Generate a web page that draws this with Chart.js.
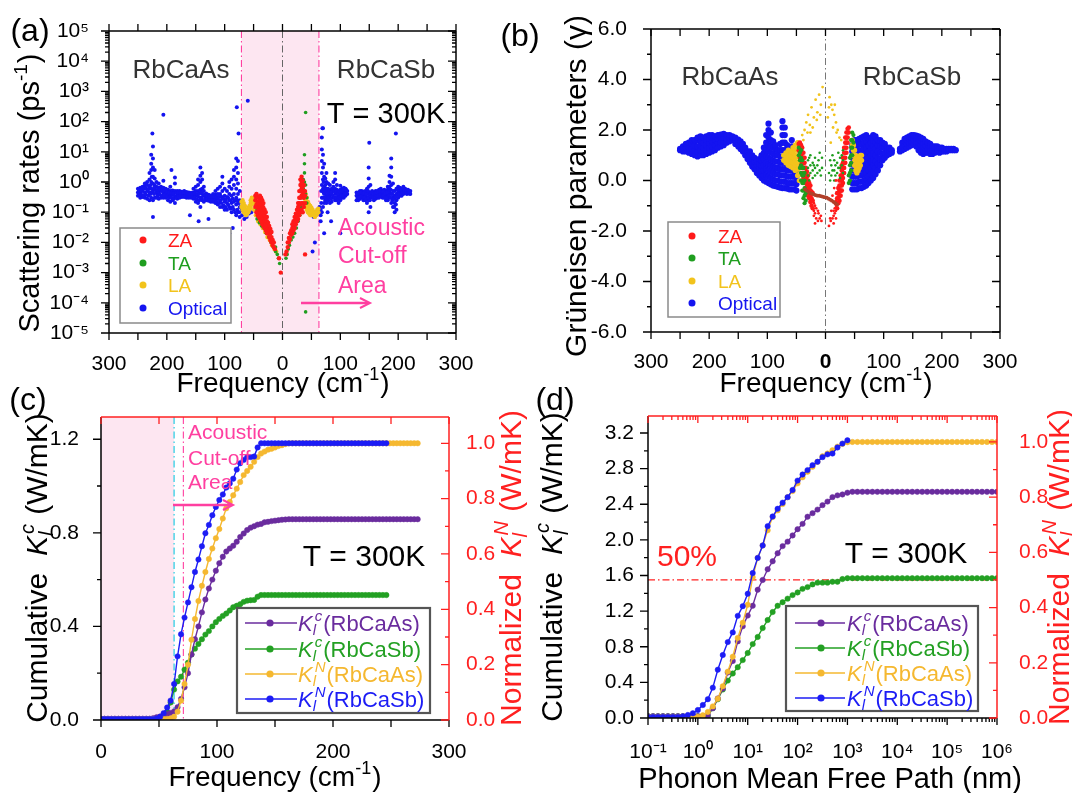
<!DOCTYPE html>
<html><head><meta charset="utf-8">
<script src="https://cdn.jsdelivr.net/npm/chart.js@4.4.1/dist/chart.umd.min.js"></script>
<style>
html,body{margin:0;padding:0;background:#fff;}
#wrap{position:relative;width:1072px;height:793px;overflow:hidden;background:#fff;}
canvas{position:absolute;}
</style></head><body><div id="wrap">
<canvas id="cc" width="527" height="408" style="left:0;top:385px"></canvas>
<canvas id="cd" width="545" height="408" style="left:527px;top:385px"></canvas>
<canvas id="ca" width="490" height="405" style="left:0;top:0"></canvas>
<canvas id="cb" width="582" height="405" style="left:490px;top:0"></canvas>
</div>
<script>
// ================= DATA =================
// Panel (a): scattering rates (ps^-1). Rows: [frequency (cm^-1), rate, rate, ...]
const aAsOptical = [
[250,0.35,0.45,0.6],[246,0.3,0.45,0.65],[242,0.32,0.5,0.7],[238,0.3,0.45,0.75,0.9],[234,0.28,0.5,0.8,1.0],[230,0.25,0.45,0.7,1.2,2],[227,0.3,0.6,1.0,2.5,4,8],[224,0.25,0.5,0.9,1.5,3,6,15],[221,0.3,0.55,0.8,1.3,2.5],[218,0.3,0.45,0.7,1.0],[214,0.28,0.45,0.65,0.9],[210,0.3,0.5,0.7],[206,0.3,0.45,0.65,1.1],[202,0.3,0.42,0.6],[198,0.25,0.38,0.55],[194,0.22,0.35,0.5,0.7],[190,0.25,0.38,0.52],[186,0.2,0.33,0.5,0.9,1.4],[182,0.28,0.38,0.5],[178,0.3,0.4,0.5],[174,0.32,0.4,0.48],[170,0.32,0.4,0.5],[166,0.3,0.38,0.47],[162,0.3,0.37,0.45],[158,0.3,0.36,0.44],[154,0.28,0.36,0.45,0.6],[150,0.22,0.35,0.5,0.7],[146,0.2,0.33,0.5,0.8,1.2],[142,0.15,0.3,0.55,1.0,1.6,3],[139,0.25,0.4,0.6,1.2,2],[136,0.22,0.35,0.5,0.7],[132,0.25,0.33,0.42],[128,0.24,0.3,0.38],[124,0.22,0.29,0.36],[120,0.22,0.3,0.4],[116,0.2,0.28,0.38,0.5],[112,0.18,0.28,0.4,0.6],[108,0.15,0.25,0.4,0.7],[104,0.15,0.28,0.5,0.9,1.5],[100,0.12,0.22,0.35,0.6],[96,0.12,0.2,0.32,0.5],[92,0.15,0.25,0.4,0.7,1.0],[88,0.1,0.2,0.35,0.6,1.2],[84,0.12,0.22,0.4,0.8,1.5,2.5],[80,0.08,0.18,0.3,0.6,1.2,3,6],[77,0.1,0.2,0.4,0.9,2,5],[74,0.07,0.15,0.25,0.5],
[248,0.4,0.52],[244,0.38,0.55],[240,0.36,0.6],[236,0.38,0.62],[232,0.35,0.58],[228,0.4,0.8],[226,0.45,1.5],[222,0.4,0.65],[216,0.36,0.55],[212,0.38,0.58],[208,0.36,0.55],[204,0.35,0.52],[200,0.32,0.48],[196,0.3,0.45],[192,0.3,0.43],[188,0.28,0.42],[184,0.3,0.44],[180,0.34,0.45],[176,0.35,0.44],[172,0.35,0.45],[168,0.34,0.43],[164,0.33,0.41],[160,0.32,0.4],[156,0.32,0.4],[152,0.3,0.42],[148,0.27,0.4],[144,0.25,0.42],[140,0.3,0.45],[134,0.28,0.38],[130,0.27,0.35],[126,0.26,0.33],[122,0.25,0.33],[118,0.24,0.33],[114,0.22,0.32],[110,0.2,0.32],[106,0.2,0.33],[102,0.17,0.28],[98,0.15,0.26],[94,0.18,0.3],[90,0.13,0.25],[86,0.15,0.28],[82,0.1,0.25],[78,0.12,0.25],[75,0.1,0.2],
[225,40],[206,170],[192,2.5],[145,0.05],[128,0.06],[118,0.015],[92,0.02],[86,0.03],[224,0.07],[160,0.08],[76,40],[79,300],[60,490],[70,0.12,0.08],[66,0.06,0.1],[62,0.07],[58,0.12,0.09],[54,0.18,0.1]
];
const aAsZA = [[47,0.15,0.25,0.35],[45,0.1,0.18,0.3,0.4],[43,0.08,0.14,0.22,0.32],[41,0.07,0.12,0.2,0.3],[39,0.06,0.1,0.16,0.25,0.35],[37,0.05,0.08,0.13,0.2,0.3],[35,0.04,0.07,0.11,0.17,0.25],[33,0.035,0.06,0.09,0.14,0.2],[31,0.03,0.05,0.08,0.12],[29,0.025,0.04,0.065,0.1],[27,0.02,0.035,0.05,0.07],[25,0.02,0.03,0.045],[23,0.015,0.025,0.035],[21,0.012,0.02,0.028],[19,0.01,0.015,0.022],[17,0.008,0.012],[15,0.007,0.01],[13,0.006],[6,0.003],[3,0.001]];
const aAsTA = [[44,0.12,0.06],[40,0.09,0.045],[36,0.07,0.035],[32,0.05,0.03],[28,0.035,0.02],[24,0.025,0.015],[20,0.015,0.01],[16,0.01,0.007],[12,0.007,0.005],[9,0.004],[7,0.003],[5,0.002]];
const aAsLA = [[71,0.15,0.22],[69,0.12,0.18,0.25],[67,0.1,0.14,0.2],[65,0.09,0.12,0.16],[63,0.08,0.11],[61,0.09,0.12],[59,0.1,0.14],[57,0.12,0.16],[55,0.14,0.2,0.25],[53,0.18,0.25,0.3],[51,0.2,0.28],[49,0.12,0.2],[46,0.08],[42,0.05],[38,0.04],[34,0.03],[30,0.022],[26,0.015],[22,0.012],[18,0.008],[14,0.006],[11,0.005]];
const aSbOptical = [
[66,0.05,0.08,0.12],[68,0.1,0.3,0.8,2,5,12,30],[70,0.15,0.3,0.6,1.2,3,8,60],[72,0.2,0.4,0.7,1.5,4],[74,0.25,0.45,0.8,1.3],[76,0.2,0.35,0.6,1.0,2],[79,0.25,0.4,0.6,0.9],[82,0.2,0.35,0.5,0.8],[85,0.22,0.4,0.6],[88,0.3,0.5,0.7,1.0],[91,0.25,0.4,0.6,1.2,2],[94,0.25,0.4,0.55,0.8],[97,0.2,0.35,0.5],[100,0.25,0.4,0.55,0.75],[103,0.3,0.42,0.6],[106,0.3,0.45,0.65],[109,0.35,0.5,0.6],[112,0.4,0.5],
[128,0.25,0.35,0.45],[131,0.25,0.33,0.45],[134,0.28,0.36,0.5],[137,0.3,0.4,0.5],[140,0.25,0.35,0.48],[143,0.25,0.38,0.5],[146,0.2,0.32,0.45,0.6],[149,0.1,0.25,0.4,0.7,1.3,3],[152,0.15,0.3,0.45,0.8],[155,0.3,0.4,0.5],[158,0.25,0.35,0.45],[161,0.28,0.38,0.5],[164,0.3,0.4,0.5],[167,0.3,0.4,0.55],[170,0.35,0.45,0.6],[173,0.3,0.4,0.5],[176,0.3,0.42,0.55],[179,0.25,0.35,0.5],[182,0.25,0.38,0.55,0.7],[185,0.3,0.45,0.7,1.0,1.6],[188,0.2,0.4,0.8,1.5,3,6],[191,0.15,0.3,0.5,0.9],[194,0.1,0.2,0.35,0.5],[197,0.12,0.25,0.4,0.6],[200,0.3,0.45,0.7],[203,0.35,0.5,0.65],[206,0.35,0.48,0.6],[209,0.4,0.55,0.7],[212,0.45,0.6],[215,0.4,0.55],[218,0.42,0.5],[221,0.4,0.5],
[67,0.2,0.5],[71,0.45,1.0],[73,0.3,0.55],[75,0.3,0.5],[77,0.28,0.5],[80,0.3,0.5],[84,0.28,0.45],[87,0.35,0.55],[90,0.3,0.5],[93,0.3,0.48],[96,0.28,0.42],[99,0.3,0.48],[102,0.35,0.5],[105,0.35,0.55],[108,0.4,0.55],[110,0.42,0.55],
[130,0.3,0.4],[133,0.3,0.42],[136,0.33,0.45],[139,0.3,0.42],[142,0.3,0.43],[145,0.27,0.4],[148,0.3,0.5],[151,0.25,0.38],[154,0.33,0.45],[157,0.3,0.4],[160,0.32,0.43],[163,0.35,0.45],[166,0.35,0.47],[169,0.38,0.52],[172,0.35,0.47],[175,0.35,0.48],[178,0.3,0.42],[181,0.3,0.45],[184,0.35,0.55],[187,0.3,0.55],[190,0.25,0.4],[193,0.15,0.28],[196,0.18,0.32],[199,0.35,0.55],[202,0.4,0.57],[205,0.4,0.55],[208,0.45,0.62],[211,0.5,0.55],[214,0.45,0.5],[217,0.45,0.55],[220,0.42,0.48],
[69,60],[150,20],[196,40],[84,0.05],[72,0.02],[78,0.1],[100,0.02],[45,0.1],[48,0.09],[51,0.08],[54,0.07],[57,0.1],[60,0.09],[62,0.12],[64,0.15],[56,0.01],[52,0.005]
];
const aSbZA = [[5,0.004],[7,0.005],[9,0.007,0.01],[11,0.01,0.014],[13,0.013,0.02],[15,0.018,0.025],[17,0.02,0.03,0.04],[19,0.025,0.04,0.05],[21,0.03,0.05,0.07],[23,0.04,0.06,0.09],[25,0.05,0.08,0.12],[27,0.06,0.1,0.15,0.2],[29,0.08,0.12,0.2,0.3,0.5],[31,0.1,0.18,0.3,0.5,0.8,1.2],[33,0.12,0.2,0.35,0.6,1.0,1.5],[35,0.1,0.2,0.4,0.7,1.1],[37,0.15,0.3,0.5,0.8],[39,0.2,0.35,0.5,0.004]];
const aSbTA = [[6,0.003],[8,0.004],[10,0.006],[12,0.008],[15,0.012],[18,0.015,0.02],[21,0.02],[24,0.03],[27,0.05],[30,0.08],[33,0.15,0.3],[36,0.3,0.6,1.2],[38,0.5,1,2,4,8],[40,0.4,0.8,200,0.00005],[42,0.3,0.2]];
const aSbLA = [[38,0.2,0.3],[40,0.15,0.25,0.4],[42,0.12,0.2,0.3],[44,0.1,0.15,0.22],[46,0.09,0.13,0.18],[48,0.08,0.12,0.16],[50,0.08,0.1,0.14],[52,0.09,0.12],[54,0.08,0.1],[56,0.07,0.09],[58,0.08,0.1],[60,0.09,0.12],[62,0.1,0.13]];
const aCutoff = [71, 63];          // acoustic cut-off (RbCaAs, RbCaSb), cm^-1
const aFreqTicks = [-300,-200,-100,0,100,200,300];
const aRateTicks = [1e-5,1e-4,1e-3,1e-2,1e-1,1,10,100,1e3,1e4,1e5];

// Panel (b): Grüneisen parameters. Rows: [frequency, gamma, gamma, ...]
const bAsOptical = [
[250,1.2,1.25],[245,1.15,1.25,1.35],[240,1.15,1.3,1.45],[235,1.1,1.3,1.5],[230,1.05,1.25,1.45,1.6],[225,1.0,1.2,1.4,1.6],[220,0.95,1.15,1.35,1.6,1.7],[215,1.0,1.2,1.4,1.6,1.75],[210,1.0,1.15,1.3,1.5,1.7],[205,1.05,1.2,1.4,1.6,1.75],[200,1.1,1.3,1.5,1.65,1.8],[195,1.15,1.35,1.55,1.7,1.8],[190,1.2,1.4,1.6,1.75],[185,1.3,1.5,1.65,1.8],[180,1.35,1.5,1.7,1.82],[175,1.4,1.55,1.7,1.85],[170,1.5,1.65,1.8],[165,1.55,1.7,1.8],[160,1.6,1.7,1.75],[155,1.45,1.6,1.7],[150,1.35,1.5,1.62],[146,1.25,1.4,1.55],[142,1.15,1.3,1.45],[138,1.0,1.15,1.3],[134,0.85,1.0,1.15],[130,0.7,0.85,1.0,1.15],[126,0.55,0.7,0.85,1.0],[122,0.45,0.6,0.75,0.9],[118,0.3,0.45,0.6,0.75],[114,0.2,0.35,0.5,0.65,0.85],[110,0.1,0.25,0.4,0.6,0.8,1.0],[106,0.0,0.2,0.4,0.6,0.85,1.1,1.3],[102,-0.05,0.2,0.45,0.7,0.95,1.2,1.5,1.8],[98,-0.1,0.15,0.4,0.65,0.9,1.15,1.4,1.7,2.0,2.25],[94,-0.15,0.1,0.35,0.6,0.85,1.1,1.35,1.6,1.9],[90,-0.2,0.05,0.3,0.55,0.8,1.05,1.3,1.55],[86,-0.22,0.0,0.25,0.5,0.75,1.0,1.25,1.4],[82,-0.25,0.0,0.25,0.5,0.75,1.0,1.2],[78,-0.28,-0.05,0.2,0.45,0.7,0.95,1.2,1.45],[74,-0.3,-0.05,0.2,0.45,0.7,0.95,1.2,1.5,1.8,2.1,2.35],[70,-0.3,-0.05,0.2,0.45,0.7,0.95,1.2,1.5,1.8,2.1],[66,-0.32,-0.1,0.15,0.4,0.65,0.9,1.15,1.4],[62,-0.35,-0.1,0.15,0.4,0.65,0.9,1.2],[58,-0.35,-0.1,0.15,0.4,0.6,0.8,1.05,1.35,1.6],[54,-0.35,-0.1,0.15,0.35,0.55],[50,-0.4,-0.15,0.1,0.3]
];
const bAsLA = [[72,0.8,1.0],[68,0.7,0.9,1.1],[64,0.6,0.8,1.0,1.2],[60,0.55,0.75,0.95,1.15],[56,0.5,0.7,0.9,1.1,1.3],[52,0.4,0.6,0.8,1.0,1.2,1.4],[48,0.2,0.45,0.7,0.95,1.2,1.5],[45,0.0,0.25,0.5,0.75,1.0,1.3]];
const bAsLAsparse = [[40,1.8],[38,1.6],[36,2.0],[33,2.3],[31,1.9],[30,2.6],[27,2.2],[26,1.9],[24,2.9],[22,2.1],[20,2.5],[17,3.2],[15,2.4],[14,2.7],[11,3.4],[9,2.6],[8,3.0],[5,3.7]];
const bAsZA = [[46,1.2,1.45],[44,0.9,1.1,1.3,1.5],[42,0.6,0.8,1.0,1.2,1.4],[40,0.3,0.5,0.7,0.9,1.1,1.3],[38,0.1,0.3,0.5,0.7,0.9,1.1],[36,-0.1,0.1,0.3,0.5,0.7,0.9],[34,-0.3,-0.1,0.1,0.3,0.5],[32,-0.45,-0.25,-0.05,0.15,0.35],[30,-0.6,-0.4,-0.2,0.0,0.2],[28,-0.7,-0.5,-0.3,-0.1],[26,-0.85,-0.6,-0.4,-0.2],[24,-1.0,-0.7,-0.45],[22,-1.1,-0.8,-0.5]];
const bAsZAsparse = [[20,-1.2,-0.9,-1.4],[18,-1.3,-1.0,-1.7],[16,-1.5,-1.1],[13,-1.6,-1.2],[12,-1.3],[10,-1.5],[8,-1.4],[7,-1.6]];
const bAsTA = [[46,1.0,1.3],[44,0.5,0.8,1.1],[42,0.0,0.3,0.6,0.9,1.2],[40,-0.4,-0.1,0.2,0.5,0.8],[38,-0.7,-0.4,-0.1,0.2,0.5],[36,-0.9,-0.6,-0.3,0.0,0.3],[34,-0.8,-0.5]];
const bAsTAsparse = [[30,0.2,0.5,0.8],[28,0.0,0.9],[26,0.3,0.6,1.0],[22,0.1,0.4,0.7],[20,0.6],[18,0.2,0.5,0.9],[14,0.3,0.6],[12,0.8],[10,0.4,1.1],[8,0.2],[6,0.5,0.9]];
const bSbOptical = [
[46,-0.35,-0.1,0.15,0.4,0.65,0.9,1.15,1.4],[50,-0.35,-0.1,0.15,0.4,0.65,0.9,1.15,1.4,1.6],[54,-0.35,-0.1,0.15,0.4,0.65,0.9,1.15,1.4,1.6],[58,-0.3,-0.05,0.2,0.45,0.7,0.95,1.2,1.45,1.65],[62,-0.3,-0.05,0.2,0.45,0.7,0.95,1.2,1.45,1.7],[66,-0.25,0.0,0.25,0.5,0.75,1.0,1.25,1.5,1.75],[70,-0.2,0.05,0.3,0.55,0.8,1.05,1.3,1.55,1.8],[74,-0.1,0.15,0.4,0.65,0.9,1.15,1.4,1.65],[78,0.0,0.25,0.5,0.75,1.0,1.25,1.5,1.7],[82,0.1,0.35,0.6,0.85,1.1,1.35,1.6,1.8],[86,0.25,0.5,0.75,1.0,1.25,1.5,1.75],[90,0.4,0.65,0.9,1.15,1.4,1.6],[94,0.6,0.85,1.1,1.35,1.6],[98,0.8,1.05,1.3,1.5],[102,0.9,1.1,1.3,1.45],[106,1.0,1.15,1.3],[110,1.05,1.2,1.3],[114,1.1,1.2],
[128,1.15,1.25],[132,1.2,1.35,1.5],[136,1.25,1.4,1.55,1.65],[140,1.3,1.45,1.6,1.7],[144,1.35,1.5,1.65,1.75],[148,1.4,1.55,1.7,1.8],[152,1.45,1.6,1.75,1.8],[156,1.35,1.5,1.65,1.78],[160,1.2,1.35,1.5,1.65,1.75],[164,1.1,1.25,1.4,1.55,1.7],[168,1.05,1.2,1.35,1.5,1.65],[172,1.1,1.25,1.4,1.55],[176,1.1,1.25,1.4,1.5],[180,1.05,1.2,1.35,1.45],[184,1.05,1.2,1.35],[188,1.1,1.25,1.35],[192,1.15,1.25,1.35],[196,1.1,1.2,1.3],[200,1.15,1.25,1.3],[204,1.15,1.25],[208,1.15,1.25],[212,1.2,1.25],[216,1.2,1.25],[220,1.2,1.25],[224,1.2]
];
const bSbZA = [[40,1.9,2.1],[38,1.5,1.7,1.9,2.05],[36,1.1,1.3,1.5,1.7,1.9],[34,0.7,0.9,1.1,1.3,1.5,1.7],[32,0.3,0.5,0.7,0.9,1.1,1.3],[30,-0.1,0.1,0.3,0.5,0.7,0.9],[28,-0.4,-0.2,0.0,0.2,0.4,0.6],[26,-0.6,-0.4,-0.2,0.0,0.2],[24,-0.8,-0.6,-0.4,-0.2,0.0],[22,-0.9,-0.7,-0.5,-0.3],[20,-1.1,-0.9,-0.7,-0.5]];
const bSbZAsparse = [[18,-1.2,-1.0,-0.8,0.0,-1.5],[16,-1.3,-1.1,-0.9],[15,-0.3],[14,-1.4,-1.2,-1.7],[12,-1.5,-0.6],[10,-1.2],[9,-1.6],[8,-1.5],[6,-1.8]];
const bSbTA = [[48,1.5,1.8],[46,1.0,1.3,1.6,1.9],[44,0.4,0.7,1.0,1.3,1.6],[42,0.0,0.3,0.6,0.9],[40,-0.1,0.2]];
const bSbTAsparse = [[30,0.3,0.8,1.2],[28,0.6,1.0],[25,0.1,0.5,0.9],[22,0.5,1.1],[20,0.3,0.7],[17,0.2,0.6],[15,0.0,0.4,0.8],[12,0.4,1.0],[10,0.2,0.6],[8,0.0,0.8],[6,0.3]];
const bSbLA = [[46,1.4,1.6],[48,1.0,1.2,1.4],[50,0.6,0.8,1.0,1.2],[52,0.4,0.6,0.8,1.0],[54,0.3,0.5,0.7,0.9],[56,0.4,0.6,0.8],[58,0.5,0.7,0.9],[60,0.6,0.8,1.0],[62,0.8,1.0]];
const bSbLAsparse = [[4,2.5],[6,2.9],[7,3.3],[9,1.5],[10,3.0],[12,2.8],[13,2.1],[15,2.6],[16,3.0],[18,2.3],[19,1.9],[21,2.0],[24,1.7],[27,1.6]];
// low-frequency ZA trace (signed frequency: negative = RbCaAs side)
const bZALineFreq = [-35,-32,-29,-26,-23,-20,-17,-14,-11,-8,-5,-2,2,5,8,11,14,17,20];
const bZALineGamma = [-0.35,-0.4,-0.45,-0.5,-0.52,-0.55,-0.58,-0.6,-0.6,-0.62,-0.64,-0.66,-0.68,-0.72,-0.76,-0.8,-0.85,-0.9,-0.95];
const bGammaTicks = [-6,-4,-2,0,2,4,6];

// Panel (c): cumulative thermal conductivity vs frequency
const freqC = [0,3,6,9,12,15,18,21,24,27,30,33,36,39,42,45,48,51,54,57,60,63,66,69,72,75,78,81,84,87,90,93,96,99,102,105,108,111,114,117,120,123,126,129,132,135,138,141,144,147,150,153,156,159,162,165,168,171,174,177,180,183,186,189,192,195,198,201,204,207,210,213,216,219,222,225,228,231,234,237,240,243,246,249,252,255,258,261,264,267,270,273];
const cAsCum = [0.005,0.005,0.005,0.005,0.005,0.005,0.005,0.005,0.005,0.005,0.005,0.005,0.005,0.005,0.005,
0.008,0.012,0.015,0.02,0.025,0.03,0.037,0.055,0.09,0.14,0.2,0.28,0.345,0.4,0.46,0.515,0.562,0.6,0.638,0.67,0.698,0.72,0.733,0.745,0.762,0.782,0.797,0.812,0.822,0.828,0.835,0.838,0.845,0.847,0.85,0.852,0.854,0.856,0.857,
0.858,0.858,0.858,0.858,0.858,0.858,0.858,0.858,0.858,0.858,0.858,0.858,0.858,0.858,0.858,0.858,0.858,0.858,0.858,0.858,0.858,0.858,0.858,0.858,0.858,0.858,0.858,0.858,0.858,0.858,0.858,0.858,0.858,0.858,0.858,0.858,0.858,0.858];
const cSbCum = [0.003,0.003,0.003,0.003,0.003,0.003,0.003,0.003,0.003,0.003,0.003,0.003,0.003,0.003,0.003,0.003,0.003,
0.006,0.018,0.035,0.075,0.13,0.165,0.185,0.215,0.245,0.28,0.305,0.325,0.345,0.365,0.38,0.4,0.418,0.432,0.445,0.455,0.468,0.482,0.488,0.495,0.505,0.51,0.512,0.513,0.527,
0.534,0.534,0.534,0.534,0.534,0.534,0.534,0.534,0.534,0.534,0.534,0.534,0.534,0.534,0.534,0.534,0.534,0.534,0.534,0.534,0.534,0.534,0.534,0.534,0.534,0.534,0.534,0.534,0.534,0.534,0.534,0.534,0.534,0.534,0.534,0.534,0.534];
const cAsNorm = [0.004,0.004,0.004,0.004,0.004,0.004,0.004,0.004,0.004,0.004,0.004,0.004,0.004,0.004,0.004,0.004,0.004,0.004,0.004,0.004,
0.006,0.012,0.03,0.07,0.13,0.2,0.29,0.365,0.43,0.485,0.535,0.582,0.62,0.657,0.69,0.728,0.765,0.788,0.812,0.836,0.86,0.885,0.9,0.915,0.933,0.95,0.963,0.97,0.977,0.98,0.985,0.99,0.993,0.997,
1,1,1,1,1,1,1,1,1,1,1,1,1,1,1,1,1,1,1,1,1,1,1,1,1,1,1,1,1,1,1,1,1,1,1,1,1,1];
const cSbNorm = [0.004,0.004,0.004,0.004,0.004,0.004,0.004,0.004,0.004,0.004,0.004,0.004,0.004,0.004,0.004,0.004,
0.006,0.012,0.025,0.045,0.07,0.13,0.23,0.31,0.37,0.425,0.48,0.535,0.58,0.628,0.675,0.705,0.74,0.77,0.795,0.815,0.84,0.855,0.872,0.905,0.928,0.94,0.95,0.95,0.952,0.985,
1,1,1,1,1,1,1,1,1,1,1,1,1,1,1,1,1,1,1,1,1,1,1,1,1,1,1,1,1,1,1,1,1,1,1,1,1];
const cCutoff = [63, 71];
const cFreqTicks = [0,100,200,300];
const cLeftTicks = [0,0.4,0.8,1.2];
const cRightTicks = [0,0.2,0.4,0.6,0.8,1.0];

// Panel (d): cumulative thermal conductivity vs phonon mean free path (nm); x given as log10 exponent
const expD = [-1.0,-0.9,-0.8,-0.7,-0.6,-0.5,-0.4,-0.3,-0.2,-0.1,0.0,0.1,0.2,0.3,0.4,0.5,0.6,0.7,0.8,0.9,1.0,1.1,1.2,1.3,1.4,1.5,1.6,1.7,1.8,1.9,2.0,2.1,2.2,2.3,2.4,2.5,2.6,2.7,2.8,2.9,3.0,3.1,3.2,3.3,3.4,3.5,3.6,3.7,3.8,3.9,4.0,4.1,4.2,4.3,4.4,4.5,4.6,4.7,4.8,4.9,5.0,5.1,5.2,5.3,5.4,5.5,5.6,5.7,5.8,5.9,6.0];
const dAsCum = [0.02,0.02,0.02,0.02,0.02,0.02,0.02,0.02,0.02,0.02,0.02,0.02,
0.035,0.11,0.22,0.33,0.51,0.64,0.86,1.03,1.15,1.26,1.44,1.55,1.67,1.76,1.85,1.93,1.98,2.05,2.12,2.18,2.26,2.3,2.34,2.39,2.43,2.48,2.5,2.51,2.53,
2.54,2.54,2.54,2.54,2.54,2.54,2.54,2.54,2.54,2.54,2.54,2.54,2.54,2.54,2.54,2.54,2.54,2.54,2.54,2.54,2.54,2.54,2.54,2.54,2.54,2.54,2.54,2.54,2.54,2.54];
const dSbCum = [0.02,0.02,0.02,0.02,0.02,0.02,0.02,0.02,0.02,0.02,0.02,0.02,0.02,
0.11,0.21,0.32,0.42,0.5,0.57,0.65,0.73,0.83,0.91,1.01,1.1,1.19,1.26,1.3,1.34,1.38,1.41,1.45,1.47,1.5,1.52,1.52,1.52,1.53,1.53,1.56,
1.57,1.57,1.57,1.57,1.57,1.57,1.57,1.57,1.57,1.57,1.57,1.57,1.57,1.57,1.57,1.57,1.57,1.57,1.57,1.57,1.57,1.57,1.57,1.57,1.57,1.57,1.57,1.57,1.57,1.57,1.57];
const dAsNorm = [0.004,0.004,0.004,0.004,0.004,0.004,0.004,0.004,0.004,0.004,0.005,
0.01,0.022,0.042,0.07,0.115,0.168,0.222,0.29,0.345,0.41,0.51,0.58,0.625,0.68,0.728,0.752,0.775,0.8,0.822,0.85,0.872,0.892,0.91,0.928,0.948,0.958,0.97,0.983,0.993,0.999,
1,1,1,1,1,1,1,1,1,1,1,1,1,1,1,1,1,1,1,1,1,1,1,1,1,1,1,1,1,1];
const dSbNorm = [0.004,0.004,0.004,0.004,0.004,0.004,0.004,0.006,0.011,0.017,0.029,0.047,0.068,0.11,0.175,0.228,0.275,0.31,0.37,0.405,0.45,0.525,0.58,0.625,0.695,0.73,0.758,0.78,0.8,0.826,0.86,0.882,0.898,0.916,0.928,0.945,0.955,0.958,0.98,0.994,1.006];
const dHalfLevel = [0.5];
const dMfpTicks = [0.1,1,10,100,1e3,1e4,1e5,1e6];
const dLeftTicks = [0,0.4,0.8,1.2,1.6,2.0,2.4,2.8,3.2];
const dRightTicks = [0,0.2,0.4,0.6,0.8,1.0];

// ================= STYLE / HELPERS =================
const FF = "'Liberation Sans', Arial, Helvetica, sans-serif";
Chart.defaults.font.family = FF;
Chart.defaults.color = '#000';
const COL = {ZA:'#ff1a1a', TA:'#1f9e1f', LA:'#f2c31c', OP:'#1414f0',
  pur:'#6a2c9e', grn:'#23a023', yel:'#f5b830', blu:'#1c1cf5', red:'#ff2020', pink:'#ff3fa0', txt:'#333333'};
const SUP = {'-':'\u207B','0':'\u2070','1':'\u00B9','2':'\u00B2','3':'\u00B3','4':'\u2074','5':'\u2075','6':'\u2076','7':'\u2077','8':'\u2078','9':'\u2079'};
const pow10 = v => '10' + String(Math.round(Math.log10(v))).split('').map(c=>SUP[c]).join('');

function rowsToPts(rows, sign){ const o=[]; rows.forEach(r=>{ for(let i=1;i<r.length;i++) o.push({x:sign*r[0], y:r[i]}); }); return o; }
function both(as, sb){ return rowsToPts(as,-1).concat(rowsToPts(sb,1)); }
function scat(label, pts, color, r, order){ return {label, data:pts, backgroundColor:color, borderColor:color, pointRadius:r, pointBorderWidth:0, showLine:false, order}; }
function lineDs(label, xs, ys, color, axis, order){
  return {label, data: ys.map((v,i)=>({x:xs[i], y:v})), borderColor:color, backgroundColor:color,
    pointBackgroundColor:color, pointBorderColor:color, pointRadius:2.7, pointBorderWidth:0.5,
    borderWidth:1.4, showLine:true, yAxisID:axis, order};
}
function logMinor(e0, e1){ const o=[]; for(let e=e0;e<e1;e++) for(let k=2;k<=9;k++) o.push(k*Math.pow(10,e)); return o; }
function range(a,b,s){ const o=[]; for(let v=a; v<=b+1e-9; v+=s) o.push(Math.round(v*1000)/1000); return o; }

function ticks(ctx, chart, id, vals, edge, len, color){
  const s = chart.scales[id], a = chart.chartArea;
  ctx.save(); ctx.strokeStyle = color||'#000'; ctx.lineWidth = 1.3; ctx.beginPath();
  vals.forEach(v=>{ const p = s.getPixelForValue(v);
    if(edge==='bottom'){ ctx.moveTo(p,a.bottom); ctx.lineTo(p,a.bottom+len); }
    else if(edge==='top'){ ctx.moveTo(p,a.top); ctx.lineTo(p,a.top-len); }
    else if(edge==='left'){ ctx.moveTo(a.left,p); ctx.lineTo(a.left-len,p); }
    else { ctx.moveTo(a.right,p); ctx.lineTo(a.right+len,p); }
  });
  ctx.stroke(); ctx.restore();
}
function line(ctx, x0,y0,x1,y1,color,dash,lw){ ctx.save(); ctx.strokeStyle=color; ctx.lineWidth=lw||1; ctx.setLineDash(dash||[]); ctx.beginPath(); ctx.moveTo(x0,y0); ctx.lineTo(x1,y1); ctx.stroke(); ctx.restore(); }
function arrow(ctx, x0, x1, y, color){ ctx.save(); ctx.strokeStyle=color; ctx.lineWidth=2.5; ctx.beginPath(); ctx.moveTo(x0,y); ctx.lineTo(x1-2,y); ctx.stroke();
  ctx.lineWidth=2; ctx.beginPath(); ctx.moveTo(x1-10,y-5); ctx.lineTo(x1,y); ctx.lineTo(x1-10,y+5); ctx.stroke(); ctx.restore(); }
function text(ctx, s, x, y, size, color, align, weight){ ctx.save(); ctx.font=(weight||'')+' '+size+'px '+FF; ctx.fillStyle=color; ctx.textAlign=align||'center'; ctx.textBaseline='alphabetic'; ctx.fillText(s, x, y+size*0.35); ctx.restore(); }
// rich text: segments {t, it} or {sub, sup, it}
function rich(ctx, segs, x, y, o){
  const S=o.size, sm=Math.round(S*0.66);
  const f=(seg,small)=>(seg.it?'italic ':'')+(small?sm:S)+'px '+FF;
  let w=0; const items=[];
  segs.forEach(sg=>{ if(typeof sg==='string') sg={t:sg};
    if(sg.t===undefined){ ctx.font=f(sg,true); const w1=sg.sub?ctx.measureText(sg.sub).width:0, w2=sg.sup?ctx.measureText(sg.sup).width+(sg.supdx||0):0; items.push({sg,x:w,small:true}); w+=Math.max(w1,w2)+1; }
    else { ctx.font=f(sg,false); items.push({sg,x:w}); w+=ctx.measureText(sg.t).width; } });
  ctx.save(); ctx.translate(x,y); if(o.rot) ctx.rotate(o.rot);
  const x0 = o.align==='left'?0:(o.align==='right'?-w:-w/2), base=S*0.35;
  ctx.textAlign='left'; ctx.textBaseline='alphabetic';
  items.forEach(it=>{ const sg=it.sg; ctx.fillStyle=sg.c||o.color||'#000';
    if(it.small){ ctx.font=f(sg,true); if(sg.sub) ctx.fillText(sg.sub,x0+it.x,base+S*0.2); if(sg.sup) ctx.fillText(sg.sup,x0+it.x+(sg.supdx||0),base-S*0.42); }
    else { ctx.font=f(sg,false); ctx.fillText(sg.t,x0+it.x,base); } });
  ctx.restore(); return w;
}
const Kc = [{t:'K',it:true},{sub:'l',sup:'c',it:true,supdx:2}];
const KN = [{t:'K',it:true},{sub:'l',sup:'N',it:true,supdx:2}];

function scatLegend(ctx, box, mx, tx, rows, size){
  ctx.save(); ctx.fillStyle='#fff'; ctx.fillRect(box[0],box[1],box[2]-box[0],box[3]-box[1]);
  ctx.strokeStyle='#8a8a8a'; ctx.lineWidth=1.5; ctx.strokeRect(box[0],box[1],box[2]-box[0],box[3]-box[1]);
  rows.forEach(r=>{ ctx.fillStyle=r[2]; ctx.beginPath(); ctx.arc(mx,r[0],3.5,0,Math.PI*2); ctx.fill(); text(ctx,r[1],tx,r[0],size,r[2],'left'); });
  ctx.restore();
}
function lineLegend(ctx, box, lx0, lx1, mx, tx, rows, size){
  ctx.save(); ctx.fillStyle='#fff'; ctx.fillRect(box[0],box[1],box[2]-box[0],box[3]-box[1]);
  ctx.strokeStyle='#555'; ctx.lineWidth=2.2; ctx.strokeRect(box[0],box[1],box[2]-box[0],box[3]-box[1]);
  rows.forEach(r=>{ line(ctx,lx0,r[0],lx1,r[0],r[2],[],1.5); ctx.fillStyle=r[2]; ctx.beginPath(); ctx.arc(mx,r[0],3.6,0,Math.PI*2); ctx.fill();
    rich(ctx, r[1].concat([{t:r[3]}]), tx, r[0], {size, color:r[2], align:'left'}); });
  ctx.restore();
}
function frame(ctx, a, topCol, rightCol){
  line(ctx,a.left,a.top,a.left,a.bottom,'#000',[],1.5); line(ctx,a.left,a.bottom,a.right,a.bottom,'#000',[],1.5);
  line(ctx,a.left,a.top,a.right,a.top,topCol,[],1.5); line(ctx,a.right,a.top,a.right,a.bottom,rightCol,[],1.5);
}
const DASHDOT = [7,3,1.5,3];
function baseScale(extra){ return Object.assign({grid:{display:false}, border:{display:false}}, extra); }

// ================= PANEL (a) =================
const decoA = { id:'decoA',
  beforeDatasetsDraw(ch){ const c=ch.ctx,a=ch.chartArea,x=ch.scales.x;
    const xl=x.getPixelForValue(-aCutoff[0]), xr=x.getPixelForValue(aCutoff[1]);
    c.save(); c.fillStyle='#fde6f1'; c.fillRect(xl,a.top,xr-xl,a.bottom-a.top); c.restore();
    line(c,xl,a.top,xl,a.bottom,COL.pink,DASHDOT,1.1); line(c,xr,a.top,xr,a.bottom,COL.pink,DASHDOT,1.1);
    const x0=x.getPixelForValue(0); line(c,x0,a.top,x0,a.bottom,'#666',DASHDOT,1);
  },
  afterDraw(ch){ const c=ch.ctx,a=ch.chartArea;
    frame(c,a,'#000','#000');
    const xt=range(-300,300,50);
    ticks(c,ch,'x',xt,'bottom',7); ticks(c,ch,'x',xt,'top',7);
    ticks(c,ch,'y',aRateTicks,'left',8); ticks(c,ch,'y',logMinor(-5,5),'left',4);
    ticks(c,ch,'y',aRateTicks,'right',-8); ticks(c,ch,'y',logMinor(-5,5),'right',-4);
    scatLegend(c,[120,228,231,323],143,168,[[240,'ZA',COL.ZA],[263,'TA',COL.TA],[285,'LA',COL.LA],[308,'Optical',COL.OP]],19);
    text(c,'RbCaAs',181,69,26,COL.txt); text(c,'RbCaSb',386,69,26,COL.txt);
    text(c,'T = 300K',386,113,29,'#000');
    text(c,'Acoustic',338,227,23,COL.pink,'left'); text(c,'Cut-off',338,255,23,COL.pink,'left'); text(c,'Area',338,285,23,COL.pink,'left');
    arrow(c,301,370,303,COL.pink);
    text(c,'(a)',30,30,32,'#000');
    rich(c,['Scattering rates (ps',{sup:'-1'},')'],29,193,{size:29,rot:-Math.PI/2});
    rich(c,['Frequency (cm',{sup:'-1'},')'],283,382,{size:28});
  }
};
new Chart(document.getElementById('ca'), {
  type:'scatter',
  data:{datasets:[
    scat('Optical', both(aAsOptical,aSbOptical), COL.OP, 2.0, 4),
    scat('LA', both(aAsLA,aSbLA), COL.LA, 2.2, 3),
    scat('TA', both(aAsTA,aSbTA), COL.TA, 1.8, 2),
    scat('ZA', both(aAsZA,aSbZA), COL.ZA, 2.2, 1)
  ]},
  options:{responsive:false, animation:false, events:[],
    layout:{padding:{top:31,right:34,left:0,bottom:0}},
    plugins:{legend:{display:false}, tooltip:{enabled:false}},
    scales:{
      x: baseScale({type:'linear', min:-300, max:300, afterFit(s){s.height=72;}, afterBuildTicks(s){s.ticks=aFreqTicks.map(v=>({value:v}));},
        ticks:{font:{size:21}, padding:11, maxRotation:0, autoSkip:false, callback:v=>String(Math.abs(v))}}),
      y: baseScale({type:'logarithmic', min:1e-5, max:1e5, afterFit(s){s.width=109;}, afterBuildTicks(s){s.ticks=aRateTicks.map(v=>({value:v}));},
        ticks:{font:{size:21}, padding:12, autoSkip:false, callback:v=>pow10(v)}})
    }
  },
  plugins:[decoA]
});

// ================= PANEL (b) =================
const decoB = { id:'decoB',
  beforeDatasetsDraw(ch){ const c=ch.ctx,a=ch.chartArea,x=ch.scales.x; const x0=x.getPixelForValue(0); line(c,x0,a.top,x0,a.bottom,'#777',DASHDOT,1); },
  afterDraw(ch){ const c=ch.ctx,a=ch.chartArea;
    frame(c,a,'#000','#000');
    const xt=range(-300,300,50);
    ticks(c,ch,'x',xt,'bottom',7); ticks(c,ch,'x',xt,'top',-7);
    ticks(c,ch,'y',bGammaTicks,'left',8); ticks(c,ch,'y',range(-5,5,2),'left',4);
    ticks(c,ch,'y',bGammaTicks,'right',-8); ticks(c,ch,'y',range(-5,5,2),'right',-4);
    scatLegend(c,[178,222,290,317],202,228,[[236,'ZA',COL.ZA],[258,'TA',COL.TA],[281,'LA',COL.LA],[303,'Optical',COL.OP]],19);
    text(c,'RbCaAs',240,76,26,COL.txt); text(c,'RbCaSb',422,76,26,COL.txt);
    text(c,'(b)',30,35,32,'#000');
    rich(c,['Grüneisen parameters (\u03B3)'],85,186,{size:30,rot:-Math.PI/2});
    rich(c,['Frequency (cm',{sup:'-1'},')'],336,382,{size:28});
  }
};
new Chart(document.getElementById('cb'), {
  type:'scatter',
  data:{datasets:[
    scat('Optical', both(bAsOptical,bSbOptical), COL.OP, 3.1, 8),
    scat('LA', both(bAsLA,bSbLA), COL.LA, 2.6, 7),
    scat('TA', both(bAsTA,bSbTA), COL.TA, 2.1, 5),
    scat('ZA', both(bAsZA,bSbZA), COL.ZA, 2.3, 6),
    scat('LA sparse', both(bAsLAsparse,bSbLAsparse), COL.LA, 1.4, 4),
    scat('TA sparse', both(bAsTAsparse,bSbTAsparse), COL.TA, 1.3, 3),
    scat('ZA sparse', both(bAsZAsparse,bSbZAsparse), COL.ZA, 1.4, 2),
    {label:'ZA trace', data:bZALineFreq.map((f,i)=>({x:f,y:bZALineGamma[i]})), borderColor:'#b0402a', backgroundColor:'#b0402a', pointRadius:1.1, borderWidth:1.6, showLine:true, order:1}
  ]},
  options:{responsive:false, animation:false, events:[],
    layout:{padding:{top:29,right:72,left:0,bottom:0}},
    plugins:{legend:{display:false}, tooltip:{enabled:false}},
    scales:{
      x: baseScale({type:'linear', min:-300, max:300, afterFit(s){s.height=73;}, afterBuildTicks(s){s.ticks=aFreqTicks.map(v=>({value:v}));},
        ticks:{font:(ctx)=>({size:21, weight: ctx.tick && ctx.tick.value===0 ? 'bold':'normal'}), padding:10, maxRotation:0, autoSkip:false, callback:v=>String(Math.abs(v))}}),
      y: baseScale({type:'linear', min:-6, max:6, afterFit(s){s.width=161;}, afterBuildTicks(s){s.ticks=bGammaTicks.map(v=>({value:v}));},
        ticks:{font:{size:21}, padding:16, autoSkip:false, callback:v=>v.toFixed(1)}})
    }
  },
  plugins:[decoB]
});

// ================= PANEL (c) =================
const decoC = { id:'decoC',
  beforeDatasetsDraw(ch){ const c=ch.ctx,a=ch.chartArea,x=ch.scales.x;
    const xc=x.getPixelForValue(cCutoff[0]), xp=x.getPixelForValue(cCutoff[1]);
    c.save(); c.fillStyle='#fde6f1'; c.fillRect(a.left,a.top,xc-a.left,a.bottom-a.top); c.restore();
    line(c,xc,a.top,xc,a.bottom,'#10c8e0',DASHDOT,1.1); line(c,xp,a.top,xp,a.bottom,COL.pink,DASHDOT,1.1);
  },
  afterDraw(ch){ const c=ch.ctx,a=ch.chartArea;
    frame(c,a,COL.red,COL.red);
    const xt=range(0,300,50);
    ticks(c,ch,'x',xt,'bottom',7); ticks(c,ch,'x',xt,'top',-7,COL.red);
    ticks(c,ch,'y',cLeftTicks,'left',8); ticks(c,ch,'y',range(0.2,1.2,0.4),'left',4);
    ticks(c,ch,'y2',cRightTicks,'right',-8,COL.red); ticks(c,ch,'y2',range(0.1,1.0,0.2),'right',-4,COL.red);
    text(c,'Acoustic',188,47,21,COL.pink,'left'); text(c,'Cut-off',188,73,21,COL.pink,'left'); text(c,'Area',188,97,21,COL.pink,'left');
    arrow(c,173,233,120,COL.pink);
    text(c,'T = 300K',364,170,30,'#000');
    lineLegend(c,[237,223,430,328],245,297,270,298,[[238,Kc,COL.pur,'(RbCaAs)'],[264,Kc,COL.grn,'(RbCaSb)'],[289,KN,COL.yel,'(RbCaAs)'],[314,KN,COL.blu,'(RbCaSb)']],22);
    text(c,'(c)',28,14,32,'#000');
    rich(c,['Cumulative  '].concat(Kc,[' (W/mK)']),36,183,{size:30,rot:-Math.PI/2});
    rich(c,['Normalized  '].concat(KN,[' (W/mK)']),510,183,{size:30,rot:-Math.PI/2,color:COL.red});
    rich(c,['Frequency (cm',{sup:'-1'},')'],275,391,{size:28});
  }
};
new Chart(document.getElementById('cc'), {
  type:'scatter',
  data:{datasets:[
    lineDs('Kc RbCaAs', freqC, cAsCum, COL.pur, 'y', 3),
    lineDs('Kc RbCaSb', freqC, cSbCum, COL.grn, 'y', 4),
    lineDs('KN RbCaAs', freqC, cAsNorm, COL.yel, 'y2', 2),
    lineDs('KN RbCaSb', freqC, cSbNorm, COL.blu, 'y2', 1)
  ]},
  options:{responsive:false, animation:false, events:[],
    layout:{padding:{top:32,right:0,left:0,bottom:0}},
    plugins:{legend:{display:false}, tooltip:{enabled:false}},
    scales:{
      x: baseScale({type:'linear', min:0, max:300, afterFit(s){s.height=73;}, afterBuildTicks(s){s.ticks=cFreqTicks.map(v=>({value:v}));},
        ticks:{font:{size:21}, padding:12, maxRotation:0, autoSkip:false}}),
      y: baseScale({type:'linear', position:'left', min:0, max:1.295, afterFit(s){s.width=101;}, afterBuildTicks(s){s.ticks=cLeftTicks.map(v=>({value:v}));},
        ticks:{font:{size:21}, padding:14, callback:v=>v.toFixed(1)}}),
      y2: baseScale({type:'linear', position:'right', min:0, max:1.095, afterFit(s){s.width=78;}, afterBuildTicks(s){s.ticks=cRightTicks.map(v=>({value:v}));},
        ticks:{font:{size:21}, padding:9, color:COL.red, callback:v=>v.toFixed(1)}})
    }
  },
  plugins:[decoC]
});

// ================= PANEL (d) =================
const decoD = { id:'decoD',
  beforeDatasetsDraw(ch){ const c=ch.ctx,a=ch.chartArea; const y=ch.scales.y2.getPixelForValue(dHalfLevel[0]);
    line(c,a.left,y,a.right,y,COL.red,DASHDOT,1.2); },
  afterDraw(ch){ const c=ch.ctx,a=ch.chartArea;
    frame(c,a,COL.red,COL.red);
    ticks(c,ch,'x',dMfpTicks,'bottom',7); ticks(c,ch,'x',logMinor(-1,6),'bottom',4);
    ticks(c,ch,'x',dMfpTicks,'top',-7,COL.red); ticks(c,ch,'x',logMinor(-1,6),'top',-4,COL.red);
    ticks(c,ch,'y',dLeftTicks,'left',8); ticks(c,ch,'y',range(0.2,3.2,0.4),'left',4);
    ticks(c,ch,'y2',dRightTicks,'right',-8,COL.red); ticks(c,ch,'y2',range(0.1,1.0,0.2),'right',-4,COL.red);
    text(c,'50%',130,170,30,COL.red,'left');
    text(c,'T = 300K',379,167,30,'#000');
    lineLegend(c,[259,221,451,326],268,318,294,320,[[238,Kc,COL.pur,'(RbCaAs)'],[263,Kc,COL.grn,'(RbCaSb)'],[288,KN,COL.yel,'(RbCaAs)'],[313,KN,COL.blu,'(RbCaSb)']],22);
    text(c,'(d)',28,14,32,'#000');
    rich(c,['Cumulative  '].concat(Kc,[' (W/mK)']),24,182,{size:30,rot:-Math.PI/2});
    rich(c,['Normalized  '].concat(KN,[' (W/mK)']),531,182,{size:30,rot:-Math.PI/2,color:COL.red});
    rich(c,['Phonon Mean Free Path (nm)'],303,393,{size:29});
  }
};
const mfpD = expD.map(e=>Math.pow(10,e));
new Chart(document.getElementById('cd'), {
  type:'scatter',
  data:{datasets:[
    lineDs('Kc RbCaAs', mfpD, dAsCum, COL.pur, 'y', 3),
    lineDs('Kc RbCaSb', mfpD, dSbCum, COL.grn, 'y', 4),
    lineDs('KN RbCaAs', mfpD, dAsNorm, COL.yel, 'y2', 2),
    lineDs('KN RbCaSb', mfpD, dSbNorm, COL.blu, 'y2', 1)
  ]},
  options:{responsive:false, animation:false, events:[],
    layout:{padding:{top:31,right:0,left:0,bottom:0}},
    plugins:{legend:{display:false}, tooltip:{enabled:false}},
    scales:{
      x: baseScale({type:'logarithmic', min:0.1, max:1e6, afterFit(s){s.height=75;}, afterBuildTicks(s){s.ticks=dMfpTicks.map(v=>({value:v}));},
        ticks:{font:{size:21}, padding:14, maxRotation:0, autoSkip:false, callback:v=>pow10(v)}}),
      y: baseScale({type:'linear', position:'left', min:0, max:3.391, afterFit(s){s.width=121;}, afterBuildTicks(s){s.ticks=dLeftTicks.map(v=>({value:v}));},
        ticks:{font:{size:21}, padding:6, callback:v=>v.toFixed(1)}}),
      y2: baseScale({type:'linear', position:'right', min:0, max:1.094, afterFit(s){s.width=75;}, afterBuildTicks(s){s.ticks=dRightTicks.map(v=>({value:v}));},
        ticks:{font:{size:21}, padding:14, color:COL.red, callback:v=>v.toFixed(1)}})
    }
  },
  plugins:[decoD]
});
</script></body></html>
